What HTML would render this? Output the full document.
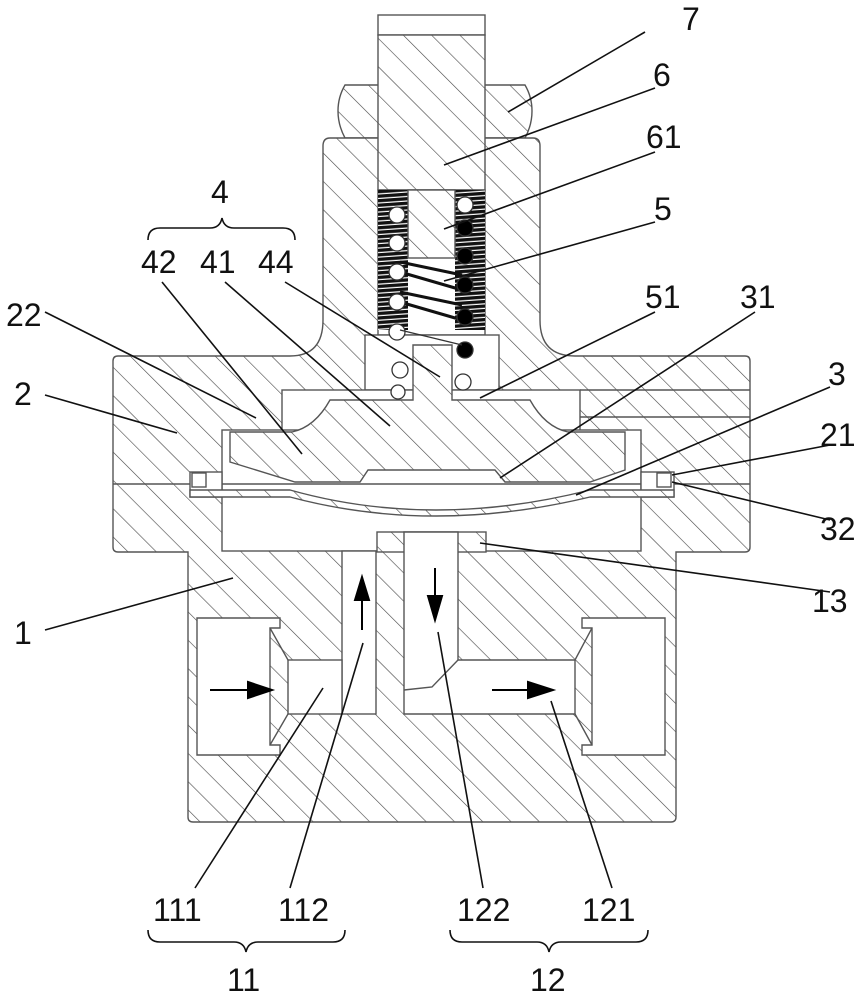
<!DOCTYPE html>
<html><head><meta charset="utf-8"><style>
html,body{margin:0;padding:0;background:#fff;}
svg{display:block;}
text{font-family:"Liberation Sans",sans-serif;font-size:32px;fill:#111;}
</style></head><body>
<svg width="863" height="1000" viewBox="0 0 863 1000" xmlns="http://www.w3.org/2000/svg">
<defs>
<pattern id="h" patternUnits="userSpaceOnUse" width="20" height="20" patternTransform="rotate(-45)">
<rect width="20" height="20" fill="#fff"/>
<line x1="0" y1="0" x2="0" y2="20" stroke="#444" stroke-width="1.2"/>
</pattern>
<pattern id="th" patternUnits="userSpaceOnUse" width="6" height="4.5" patternTransform="rotate(-4)">
<rect width="6" height="4.5" fill="#fff"/>
<rect y="0" width="6" height="3.3" fill="#111"/>
</pattern>
</defs>
<g stroke="#555" stroke-width="1.4">
<rect x="378" y="15" width="107" height="20" fill="#fff"/>
<path d="M345,85 L383,85 L383,138 L345,138 Q338,125 338,111 Q338,97 345,85 Z" fill="url(#h)"/>
<path d="M478,85 L525,85 Q532,97 532,111 Q532,125 525,138 L478,138 Z" fill="url(#h)"/>
<path d="M330,138 L533,138 Q540,138 540,146 L540,320 Q540,356 575,356 L745,356 Q750,356 750,361 L750,547 Q750,552 745,552 L676,552 L676,817 Q676,822 671,822 L193,822 Q188,822 188,817 L188,552 L118,552 Q113,552 113,547 L113,361 Q113,356 118,356 L290,356 Q323,356 323,320 L323,146 Q323,138 330,138 Z" fill="url(#h)"/>
<rect x="378" y="35" width="107" height="155" fill="url(#h)"/>
<rect x="378" y="190" width="107" height="145" fill="#fff"/>
<rect x="378" y="190" width="30" height="140" fill="url(#th)" stroke="none"/>
<rect x="455" y="190" width="30" height="140" fill="url(#th)" stroke="none"/>
<path d="M400,272 L462,290 M400,302 L462,320 M400,262 L462,275 M400,292 L462,305" stroke="#111" stroke-width="3" fill="none"/>
<rect x="408" y="190" width="47" height="68" fill="url(#h)"/>
<rect x="365" y="335" width="134" height="55" fill="#fff"/>
<rect x="282" y="390" width="298" height="42" fill="#fff"/>
<rect x="222" y="430" width="419" height="121" fill="#fff"/>
<line x1="580" y1="390" x2="750" y2="390"/>
<line x1="580" y1="417" x2="750" y2="417"/>
<line x1="113" y1="484" x2="750" y2="484"/>
<rect x="190" y="472" width="32" height="25" fill="#fff"/>
<rect x="641" y="472" width="33" height="25" fill="#fff"/>
<rect x="192" y="473" width="14" height="14" fill="#fff"/>
<rect x="657" y="473" width="14" height="14" fill="#fff"/>
<path d="M413,345 L452,345 L452,400 L530,400 Q545,427 568,432 L625,432 L625,470 L590,482 L505,482 L495,470 L368,470 L360,482 L295,482 L230,462 L230,432 L292,432 Q315,427 330,400 L413,400 Z" fill="url(#h)"/>
<path d="M190,490 L290,490 Q432,530 590,490 L674,490 L674,497 L590,497 Q432,535 290,497 L190,497 Z" fill="url(#h)"/>
<rect x="377" y="532" width="109" height="20" fill="url(#h)"/>
<rect x="342" y="551" width="34" height="163" fill="#fff"/>
<path d="M404,532 L458,532 L458,660 L575,660 L575,714 L404,714 Z" fill="#fff"/>
<path d="M404,690 L432,687 L458,660" fill="none"/>
<rect x="288" y="660" width="54" height="54" fill="#fff"/>
<path d="M197,618 L280,618 L280,628 L270,628 L270,745 L280,745 L280,755 L197,755 Z" fill="#fff"/>
<path d="M270,628 L288,660 M270,745 L288,714" fill="none"/>
<path d="M665,618 L582,618 L582,628 L592,628 L592,745 L582,745 L582,755 L665,755 Z" fill="#fff"/>
<path d="M592,628 L575,660 M592,745 L575,714" fill="none"/>
</g>
<g stroke="#333" stroke-width="1.3" fill="#fff">
<circle cx="397" cy="215" r="8"/><circle cx="397" cy="243" r="8"/><circle cx="397" cy="272" r="8"/>
<circle cx="397" cy="302" r="8"/><circle cx="397" cy="332" r="8"/><circle cx="400" cy="370" r="8"/><circle cx="398" cy="392" r="7"/>
<circle cx="465" cy="205" r="8"/><circle cx="463" cy="382" r="8"/>
<circle cx="465" cy="228" r="8" fill="#000"/><circle cx="465" cy="256" r="8" fill="#000"/><circle cx="465" cy="285" r="8" fill="#000"/>
<circle cx="465" cy="317" r="8" fill="#000"/><circle cx="465" cy="350" r="8" fill="#000"/>
<path d="M400,330 L462,345" fill="none"/>
</g>
<g stroke="#000" stroke-width="2" fill="#000">
<line x1="210" y1="690" x2="250" y2="690"/><path d="M248,682 L272,690 L248,698 Z"/>
<line x1="362" y1="630" x2="362" y2="595"/><path d="M355,600 L362,577 L369,600 Z"/>
<line x1="435" y1="568" x2="435" y2="600"/><path d="M428,596 L435,620 L442,596 Z"/>
<line x1="492" y1="690" x2="530" y2="690"/><path d="M528,682 L553,690 L528,698 Z"/>
</g>
<g stroke="#111" stroke-width="1.6" fill="none">
<line x1="645" y1="32" x2="508" y2="112"/>
<line x1="655" y1="88" x2="444" y2="165"/>
<line x1="655" y1="152" x2="444" y2="229"/>
<line x1="655" y1="222" x2="444" y2="281"/>
<line x1="655" y1="312" x2="480" y2="398"/>
<line x1="755" y1="312" x2="500" y2="478"/>
<line x1="830" y1="387" x2="576" y2="495"/>
<line x1="830" y1="445" x2="672" y2="475"/>
<line x1="830" y1="520" x2="672" y2="482"/>
<line x1="830" y1="592" x2="480" y2="543"/>
<line x1="45" y1="630" x2="233" y2="578"/>
<line x1="45" y1="395" x2="177" y2="433"/>
<line x1="45" y1="312" x2="256" y2="418"/>
<line x1="162" y1="282" x2="302" y2="454"/>
<line x1="225" y1="282" x2="390" y2="426"/>
<line x1="285" y1="282" x2="440" y2="377"/>
<line x1="195" y1="888" x2="323" y2="688"/>
<line x1="290" y1="888" x2="363" y2="643"/>
<line x1="483" y1="888" x2="438" y2="632"/>
<line x1="612" y1="888" x2="551" y2="701"/>
<path d="M148,240 Q148,228 160,228 L210,228 Q220,228 222,218 Q224,228 234,228 L283,228 Q295,228 295,240"/>
<path d="M148,930 Q148,942 160,942 L234,942 Q244,942 246,952 Q248,942 258,942 L333,942 Q345,942 345,930"/>
<path d="M450,930 Q450,942 462,942 L537,942 Q547,942 549,952 Q551,942 561,942 L636,942 Q648,942 648,930"/>
</g>
<text x="682" y="30">7</text>
<text x="653" y="86">6</text>
<text x="646" y="148">61</text>
<text x="654" y="220">5</text>
<text x="645" y="308">51</text>
<text x="740" y="308">31</text>
<text x="828" y="385">3</text>
<text x="820" y="446">21</text>
<text x="820" y="540">32</text>
<text x="812" y="612">13</text>
<text x="14" y="644">1</text>
<text x="14" y="405">2</text>
<text x="6" y="326">22</text>
<text x="211" y="203">4</text>
<text x="141" y="273">42</text>
<text x="200" y="273">41</text>
<text x="258" y="273">44</text>
<text x="153" y="921">111</text>
<text x="278" y="921">112</text>
<text x="457" y="921">122</text>
<text x="582" y="921">121</text>
<text x="227" y="991">11</text>
<text x="530" y="991">12</text>
</svg>
</body></html>
